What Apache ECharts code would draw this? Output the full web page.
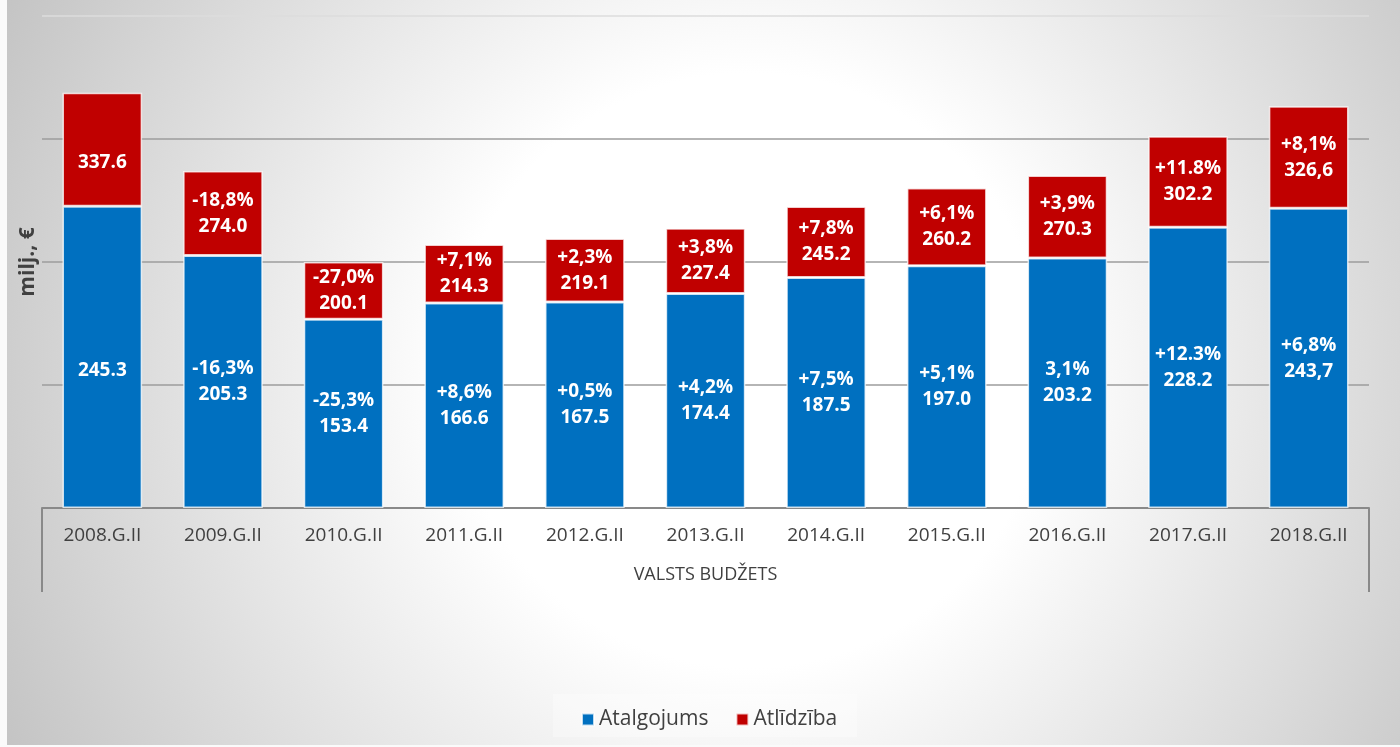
<!DOCTYPE html>
<html>
<head>
<meta charset="utf-8">
<title>Atalgojums un Atlīdzība</title>
<script src="https://cdn.jsdelivr.net/npm/echarts@6/dist/echarts.min.js"></script>
<style>
  html, body { margin: 0; padding: 0; background: #fafafa; }
  #main { position: absolute; left: 7px; top: 0; width: 1393px; height: 745px; }
</style>
</head>
<body>
<div id="main"></div>
<script>
// dati
var categories = ['2008.G.II', '2009.G.II', '2010.G.II', '2011.G.II', '2012.G.II', '2013.G.II',
                  '2014.G.II', '2015.G.II', '2016.G.II', '2017.G.II', '2018.G.II'];
var atalgojums = [245.3, 205.3, 153.4, 166.6, 167.5, 174.4, 187.5, 197.0, 203.2, 228.2, 243.7];
var atlidziba = [337.6, 274.0, 200.1, 214.3, 219.1, 227.4, 245.2, 260.2, 270.3, 302.2, 326.6];
// teksts uz stabiem (izmaiņas % un vērtība, kā oriģinālā)
var atalgojumsPct = ['', '-16,3%', '-25,3%', '+8,6%', '+0,5%', '+4,2%', '+7,5%', '+5,1%', '3,1%', '+12.3%', '+6,8%'];
var atalgojumsText = ['245.3', '205.3', '153.4', '166.6', '167.5', '174.4', '187.5', '197.0', '203.2', '228.2', '243,7'];
var atlidzibaPct = ['', '-18,8%', '-27,0%', '+7,1%', '+2,3%', '+3,8%', '+7,8%', '+6,1%', '+3,9%', '+11.8%', '+8,1%'];
var atlidzibaText = ['337.6', '274.0', '200.1', '214.3', '219.1', '227.4', '245.2', '260.2', '270.3', '302.2', '326,6'];
var groupLabel = ['VALSTS BUDŽETS'];

// sarkanā daļa = atlīdzība virs atalgojuma
var atlidzibaRest = [];
for (var i = 0; i < atlidziba.length; i++) {
    atlidzibaRest.push(Math.round((atlidziba[i] - atalgojums[i]) * 10) / 10);
}

var font = 'Open Sans';
var myChart = echarts.init(document.getElementById('main'));

var option = {
    animation: false,
    backgroundColor: {
        type: 'radial', x: 0.533, y: 0.497, r: 1.14,
        colorStops: [
            {offset: 0, color: '#ffffff'},
            {offset: 0.35, color: '#ffffff'},
            {offset: 1, color: '#c2c2c2'}
        ]
    },
    textStyle: { fontFamily: font },
    graphic: [{
        type: 'rect',
        z: -1,
        shape: { x: 546, y: 694, width: 304, height: 43 },
        style: { fill: 'rgba(255,255,255,0.3)' }
    }],
    grid: { left: 35, right: 31, top: 16, bottom: 237 },
    legend: {
        left: 569,
        top: 704,
        icon: 'rect',
        itemWidth: 12,
        itemHeight: 12,
        itemGap: 27,
        textStyle: { fontFamily: font, fontSize: 21, color: '#404040' },
        data: ['Atalgojums', 'Atlīdzība']
    },
    xAxis: [{
        type: 'category',
        data: categories,
        axisLine: { lineStyle: { color: '#898989', width: 2 } },
        axisTick: { show: false },
        axisLabel: { interval: 0, margin: 18, color: '#404040', fontSize: 19, fontFamily: font }
    }, {
        type: 'category',
        position: 'bottom',
        data: groupLabel,
        axisLine: { show: false },
        axisTick: { show: true, length: 84, lineStyle: { color: '#898989', width: 2 } },
        axisLabel: { margin: 58, color: '#404040', fontSize: 18, fontFamily: font }
    }],
    yAxis: {
        type: 'value',
        min: 0,
        max: 400,
        interval: 100,
        name: 'milj., €',
        nameLocation: 'middle',
        nameRotate: 90,
        nameGap: 3,
        nameTextStyle: { fontFamily: font, fontSize: 21, fontWeight: 'bold', color: '#404040' },
        axisLine: { show: false },
        axisTick: { show: false },
        axisLabel: { show: false },
        splitLine: { lineStyle: { color: ['#9c9c9c', '#9c9c9c', '#9c9c9c', '#9c9c9c', '#dcdcdc'], width: 1.5 } }
    },
    series: [{
        name: 'Atalgojums',
        type: 'bar',
        stack: 'kopa',
        xAxisIndex: 0,
        barCategoryGap: '34%',
        data: atalgojums,
        itemStyle: { color: '#0070C0', borderColor: 'rgba(255,255,255,0.75)', borderWidth: 1.5 },
        label: {
            show: true,
            position: 'inside',
            color: '#ffffff',
            fontFamily: font,
            fontSize: 19,
            fontWeight: 'bold',
            lineHeight: 26,
            formatter: function (p) {
                return atalgojumsPct[p.dataIndex] + '\n' + atalgojumsText[p.dataIndex];
            }
        }
    }, {
        name: 'Atlīdzība',
        type: 'bar',
        stack: 'kopa',
        xAxisIndex: 0,
        barCategoryGap: '34%',
        data: atlidzibaRest,
        itemStyle: { color: '#C00000', borderColor: 'rgba(255,255,255,0.75)', borderWidth: 1.5 },
        label: {
            show: true,
            position: 'inside',
            color: '#ffffff',
            fontFamily: font,
            fontSize: 19,
            fontWeight: 'bold',
            lineHeight: 26,
            formatter: function (p) {
                return atlidzibaPct[p.dataIndex] + '\n' + atlidzibaText[p.dataIndex];
            }
        }
    }]
};

myChart.setOption(option);
</script>
</body>
</html>
